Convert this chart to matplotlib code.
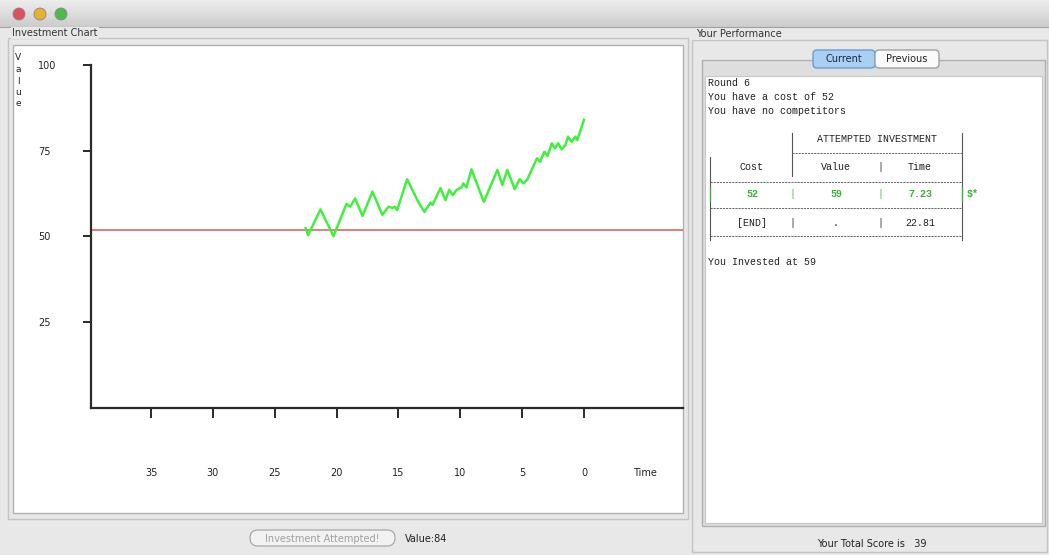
import numpy as np
import matplotlib
matplotlib.use("Agg")
import matplotlib.pyplot as plt
from matplotlib.patches import Rectangle, FancyBboxPatch, Circle

# chart data (time runs from 22.5 down to 0)
time_pts = [22.5, 22.3, 21.3, 20.25, 19.2, 18.9, 18.5, 17.9, 17.1, 16.3, 15.8, 15.5,
            15.3, 15.1, 14.3, 13.4, 12.9, 12.4, 12.25, 11.6, 11.2, 10.9, 10.6, 10.3,
            9.9, 9.75, 9.5, 9.1, 8.1, 7.0, 6.6, 6.2, 5.6, 5.2, 4.9, 4.6, 3.8, 3.55,
            3.2, 2.95, 2.6, 2.35, 2.1, 1.8, 1.5, 1.3, 1.0, 0.7, 0.55, 0.0]
value_pts = [52.4, 50.4, 57.9, 50.1, 59.5, 58.7, 61.1, 56.0, 63.1, 56.3, 58.7, 58.3,
             58.7, 57.7, 66.7, 60.1, 57.2, 59.9, 59.2, 64.1, 60.6, 63.6, 62.1, 63.6,
             64.3, 65.5, 64.3, 69.6, 60.1, 69.4, 65.0, 69.4, 63.8, 66.7, 65.5, 66.5,
             72.8, 71.8, 74.7, 73.5, 77.2, 75.7, 77.2, 75.4, 76.7, 79.1, 77.6, 79.1,
             78.1, 84.0]
cost = 52
x_ticks = [35, 30, 25, 20, 15, 10, 5, 0]
y_ticks = [25, 50, 75, 100]

info_lines = ["Round 6", "You have a cost of 52", "You have no competitors"]
table_header = "ATTEMPTED INVESTMENT"
col_names = ["Cost", "Value", "Time"]
row_invest = ["52", "59", "7.23"]
row_end = ["[END]", ".", "22.81"]
invested_msg = "You Invested at 59"
total_score = 39
current_value = 84

W, H = 1049, 555
fig = plt.figure(figsize=(W / 100, H / 100), dpi=100)
fig.patch.set_facecolor("#e8e8e8")

# background axes in pixel coordinates for the window chrome
bg = fig.add_axes([0, 0, 1, 1])
bg.set_xlim(0, W)
bg.set_ylim(H, 0)
bg.axis("off")

# title bar
grad = np.linspace(0.93, 0.80, 30).reshape(-1, 1)
bg.imshow(grad, cmap="gray", vmin=0, vmax=1, extent=[0, W, 27, 0], aspect="auto")
bg.plot([0, W], [27, 27], color="#a0a0a0", lw=0.8)
for cx, col in zip([19, 40, 61], ["#e0505a", "#e8b030", "#50b850"]):
    bg.add_patch(Circle((cx, 14), 6, facecolor=col, edgecolor="#888888", lw=0.6))

mono = "Liberation Mono"
sans = "DejaVu Sans"
label_box = dict(facecolor="#e8e8e8", edgecolor="none", pad=1)

# left panel
bg.add_patch(Rectangle((8, 38), 680, 481, facecolor="none", edgecolor="#c4c4c4", lw=1))
bg.add_patch(Rectangle((13, 45), 670, 468, facecolor="white", edgecolor="#b0b0b0", lw=1))
bg.text(12, 33, "Investment Chart", fontsize=7, family=sans, color="#333333",
        va="center", ha="left", bbox=label_box)
for i, ch in enumerate("Value"):
    bg.text(18, 58 + i * 11.5, ch, fontsize=6.5, family=sans, color="#222222",
            ha="center", va="center")

# bottom controls
bg.add_patch(FancyBboxPatch((250, 530), 145, 16, boxstyle="round,pad=0,rounding_size=8",
                            facecolor="#f2f2f2", edgecolor="#a8a8a8", lw=0.9))
bg.text(322, 538.5, "Investment Attempted!", fontsize=7, family=sans, color="#a0a0a0",
        ha="center", va="center")
bg.text(405, 538.5, f"Value:{current_value}", fontsize=7, family=sans, color="#222222",
        ha="left", va="center")

# right panel
bg.add_patch(Rectangle((692, 40), 355, 512, facecolor="none", edgecolor="#c4c4c4", lw=1))
bg.text(696, 34, "Your Performance", fontsize=7, family=sans, color="#333333",
        va="center", ha="left", bbox=label_box)
bg.add_patch(Rectangle((702, 60), 343, 466, facecolor="#dedede", edgecolor="#b0b0b0", lw=1))
bg.add_patch(Rectangle((705, 76), 337, 447, facecolor="white", edgecolor="#c8c8c8", lw=0.8))
bg.add_patch(FancyBboxPatch((813, 50), 62, 18, boxstyle="round,pad=0,rounding_size=4",
                            facecolor="#a9cff2", edgecolor="#6b9bd6", lw=1))
bg.add_patch(FancyBboxPatch((875, 50), 64, 18, boxstyle="round,pad=0,rounding_size=4",
                            facecolor="#fafafa", edgecolor="#a0a0a0", lw=1))
bg.text(844, 59, "Current", fontsize=7, family=sans, color="#1a2a40", ha="center", va="center")
bg.text(907, 59, "Previous", fontsize=7, family=sans, color="#222222", ha="center", va="center")
bg.text(872, 544, f"Your Total Score is   {total_score}", fontsize=7, family=sans,
        color="#222222", ha="center", va="center")

# text log in the performance pane
dark = "#222222"
green = "#33b533"
for i, line in enumerate(info_lines):
    bg.text(708, 83 + i * 14, line, fontsize=7.2, family=mono, color=dark,
            ha="left", va="center")
bg.text(877, 139, table_header, fontsize=7.2, family=mono, color=dark, ha="center", va="center")
col_x = [752, 836, 920]
for x, name in zip(col_x, col_names):
    bg.text(x, 167, name, fontsize=7.2, family=mono, color=dark, ha="center", va="center")
for x, v in zip(col_x, row_invest):
    bg.text(x, 194, v, fontsize=7.2, family=mono, color=green, ha="center", va="center",
            weight="bold")
for x, v in zip(col_x, row_end):
    bg.text(x, 223, v, fontsize=7.2, family=mono, color=dark, ha="center", va="center")
bg.text(967, 194, "$*", fontsize=7.2, family=mono, color=green, ha="left", va="center",
        weight="bold")
for y, c in [(167, dark), (194, green), (223, dark)]:
    bg.text(880, y, "|", fontsize=7.2, family=mono, color=c, ha="center", va="center")
for y, c in [(194, green), (223, dark)]:
    bg.text(792, y, "|", fontsize=7.2, family=mono, color=c, ha="center", va="center")
bg.plot([792, 792], [133, 176], color="#555555", lw=0.8)
bg.plot([962, 962], [133, 240], color="#555555", lw=0.8)
bg.plot([962, 962], [187, 201], color=green, lw=0.9)
bg.plot([710, 710], [157, 240], color="#555555", lw=0.8)
bg.plot([710, 710], [187, 201], color=green, lw=0.9)
for y, x0 in [(153, 792), (182, 710), (208, 710), (236, 710)]:
    bg.plot([x0, 962], [y, y], color="#666666", lw=0.7, dashes=(2.2, 1.0))
bg.text(708, 262, invested_msg, fontsize=7.2, family=mono, color=dark, ha="left", va="center")

# the investment chart itself
ax = fig.add_axes([91 / W, (H - 408) / H, 592 / W, 343 / H])
ax.set_facecolor("none")
ax.set_xlim(39.85, -8.0)
ax.set_ylim(0, 100)
for s in ["top", "right"]:
    ax.spines[s].set_visible(False)
for s in ["left", "bottom"]:
    ax.spines[s].set_linewidth(1.6)
    ax.spines[s].set_color("#2a2a2a")
ax.axhline(cost, color="#d85a5a", lw=1.1, zorder=2)
ax.plot(time_pts, value_pts, color="#3ff03f", lw=1.8, zorder=3)

ax.set_xticks(x_ticks)
ax.set_xticklabels([str(t) for t in x_ticks], fontsize=7, family=sans, color="#222222")
ax.tick_params(axis="x", direction="out", length=7, width=1.4, color="#2a2a2a", pad=36)
ax.set_yticks(y_ticks)
ax.set_yticklabels([str(t) for t in y_ticks], fontsize=7, family=sans, color="#222222",
                   ha="left")
ax.tick_params(axis="y", direction="out", length=6, width=1.4, color="#2a2a2a", pad=32)
ax.text(0.935, -0.19, "Time", transform=ax.transAxes, fontsize=7, family=sans,
        color="#222222", ha="center", va="center")

fig.savefig("out.png", dpi=100, facecolor=fig.get_facecolor())
